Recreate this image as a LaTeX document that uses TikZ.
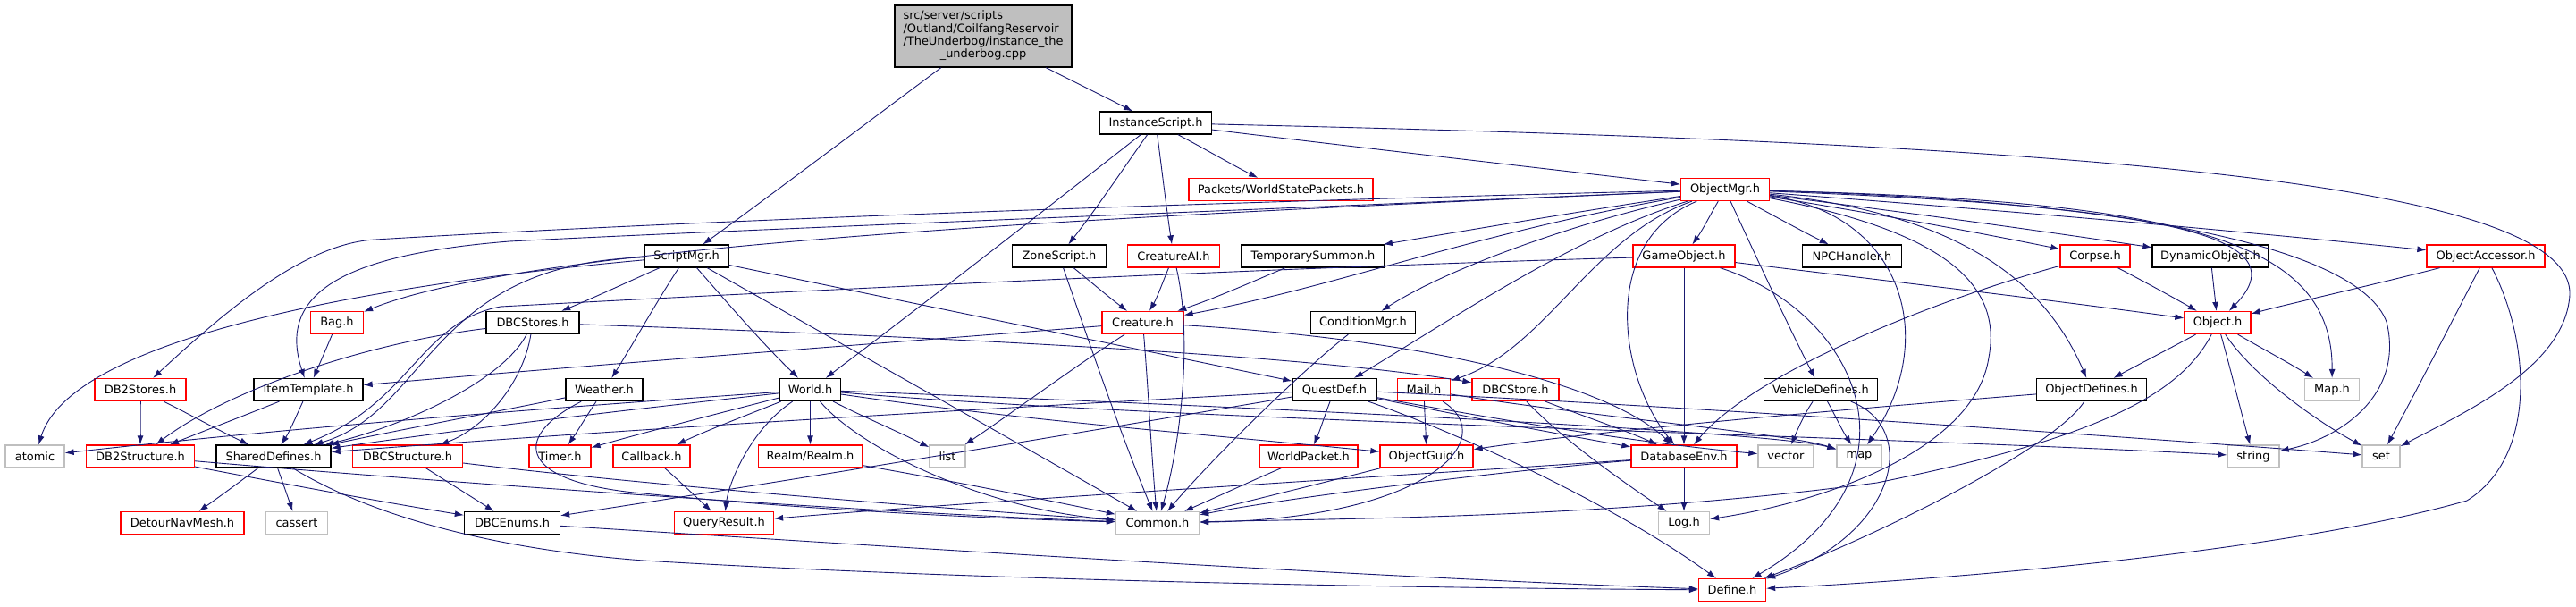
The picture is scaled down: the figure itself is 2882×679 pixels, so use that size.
\documentclass[tikz,border=0pt]{standalone}
\usepackage{fontspec}
\setmainfont{DejaVu Sans}
\usepackage{tikz}
\usetikzlibrary{arrows.meta}
\definecolor{edgeblue}{HTML}{191970}
\definecolor{boxred}{HTML}{FF0000}
\definecolor{boxgray}{HTML}{BFBFBF}
\newcommand{\dfont}{\fontsize{13}{14.4}\selectfont}
\begin{document}
\begin{tikzpicture}[>={Latex[length=10bp,width=7bp]}, x=1bp, y=-1bp]
      \tikzstyle{every node}=[font=\dfont]
      \tikzstyle{hdr}=[draw, line width=1.3bp, fill=white, minimum height=25bp, inner sep=0pt]
      \tikzstyle{blkbox}=[hdr, draw=black]
      \tikzstyle{redbox}=[hdr, draw=boxred]
      \tikzstyle{grybox}=[hdr, draw=boxgray]
      \tikzstyle{inc}=[->, color=edgeblue, line width=0.9bp]
      \useasboundingbox (0,0) rectangle (2882,679);
%%
\node (root) at (1100,40.5) [blkbox, fill=boxgray, minimum width=198bp, minimum height=69bp] {\begin{tabular}{@{}l@{}}src/server/scripts\\/Outland/CoilfangReservoir\\/TheUnderbog/instance\_the\\\multicolumn{1}{@{}c@{}}{\_underbog.cpp}\end{tabular}};
  \node (InstanceScript) at (1293,137.5) [blkbox, minimum width=125bp] {InstanceScript.h};
  \node (WorldStatePackets) at (1433,212) [redbox, minimum width=206bp] {Packets/WorldStatePackets.h};
  \node (ObjectMgr) at (1930,212) [redbox, minimum width=99bp] {ObjectMgr.h};
  \node (ScriptMgr) at (768,286.5) [blkbox, minimum width=94bp] {ScriptMgr.h};
  \node (ZoneScript) at (1185,286.5) [blkbox, minimum width=105bp] {ZoneScript.h};
  \node (CreatureAI) at (1313,286.5) [redbox, minimum width=103bp] {CreatureAI.h};
  \node (TemporarySummon) at (1469,286.5) [blkbox, minimum width=160bp] {TemporarySummon.h};
  \node (GameObject) at (1884,286.5) [redbox, minimum width=114bp] {GameObject.h};
  \node (NPCHandler) at (2072,286.5) [blkbox, minimum width=111bp] {NPCHandler.h};
  \node (Corpse) at (2344,286.5) [redbox, minimum width=78bp] {Corpse.h};
  \node (DynamicObject) at (2473,286.5) [blkbox, minimum width=130bp] {DynamicObject.h};
  \node (ObjectAccessor) at (2781,286.5) [redbox, minimum width=132bp] {ObjectAccessor.h};
  \node (Bag) at (377,361) [redbox, minimum width=59bp] {Bag.h};
  \node (DBCStores) at (596,361) [blkbox, minimum width=104bp] {DBCStores.h};
  \node (Creature) at (1278.5,361) [redbox, minimum width=91bp] {Creature.h};
  \node (ConditionMgr) at (1525,361) [blkbox, minimum width=117bp] {ConditionMgr.h};
  \node (Object) at (2481,361) [redbox, minimum width=74bp] {Object.h};
  \node (DB2Stores) at (157,436) [redbox, minimum width=102bp] {DB2Stores.h};
  \node (ItemTemplate) at (345,436) [blkbox, minimum width=122bp] {ItemTemplate.h};
  \node (Weather) at (676,436) [blkbox, minimum width=86bp] {Weather.h};
  \node (World) at (906.5,436) [blkbox, minimum width=68bp] {World.h};
  \node (QuestDef) at (1493,436) [blkbox, minimum width=94bp] {QuestDef.h};
  \node (Mail) at (1593,436) [redbox, minimum width=59bp] {Mail.h};
  \node (DBCStore) at (1695.5,436) [redbox, minimum width=97bp] {DBCStore.h};
  \node (VehicleDefines) at (2037,436) [blkbox, minimum width=127bp] {VehicleDefines.h};
  \node (ObjectDefines) at (2340,436) [blkbox, minimum width=123bp] {ObjectDefines.h};
  \node (MapH) at (2609,436) [grybox, minimum width=61bp] {Map.h};
  \node (atomic) at (39,510.5) [grybox, minimum width=66bp] {atomic};
  \node (DB2Structure) at (157,510.5) [redbox, minimum width=121bp] {DB2Structure.h};
  \node (SharedDefines) at (306,510.5) [blkbox, minimum width=128bp] {SharedDefines.h};
  \node (DBCStructure) at (456,510.5) [redbox, minimum width=123bp] {DBCStructure.h};
  \node (Timer) at (626.5,510.5) [redbox, minimum width=69bp] {Timer.h};
  \node (Callback) at (729,510.5) [redbox, minimum width=86bp] {Callback.h};
  \node (Realm) at (906.5,510.5) [redbox, minimum width=116bp] {Realm/Realm.h};
  \node (list) at (1060,510.5) [grybox, minimum width=40bp] {list};
  \node (WorldPacket) at (1464,510.5) [redbox, minimum width=110bp] {WorldPacket.h};
  \node (ObjectGuid) at (1596,510.5) [redbox, minimum width=104bp] {ObjectGuid.h};
  \node (DatabaseEnv) at (1884,510.5) [redbox, minimum width=118bp] {DatabaseEnv.h};
  \node (vector) at (1998,510.5) [grybox, minimum width=62bp] {vector};
  \node (map) at (2080,510.5) [grybox, minimum width=50bp] {map};
  \node (string) at (2521,510.5) [grybox, minimum width=58bp] {string};
  \node (set) at (2664,510.5) [grybox, minimum width=42bp] {set};
  \node (DetourNavMesh) at (204,585) [redbox, minimum width=138bp] {DetourNavMesh.h};
  \node (cassert) at (332,585) [grybox, minimum width=69bp] {cassert};
  \node (DBCEnums) at (573,585) [blkbox, minimum width=107bp] {DBCEnums.h};
  \node (QueryResult) at (810,585) [redbox, minimum width=111bp] {QueryResult.h};
  \node (Common) at (1295,585) [grybox, minimum width=93bp] {Common.h};
  \node (Log) at (1884,585) [grybox, minimum width=57bp] {Log.h};
  \node (Define) at (1938,660) [redbox, minimum width=75bp] {Define.h};
%%
  \draw [inc] (root) ..controls (1203,92) and (1235,108) .. (InstanceScript);
  \draw [inc] (root) ..controls (1000,115) and (840,235) .. (ScriptMgr);
  \draw [inc] (InstanceScript) ..controls (1530,166) and (1705,186) .. (ObjectMgr);
  \draw [inc] (InstanceScript) ..controls (1347,166) and (1376,183) .. (WorldStatePackets);
  \draw [inc] (InstanceScript) ..controls (1300,191) and (1305,233) .. (CreatureAI);
  \draw [inc] (InstanceScript) ..controls (1255,191) and (1227,233) .. (ZoneScript);
  \draw [inc] (InstanceScript) ..controls (1161,241) and (1044,332) .. (World);
  \draw [inc] (InstanceScript) ..controls (2300,160) and (2880,200) .. (2875,330) ..controls (2870,410) and (2760,460) .. (set);
  \draw [inc] (ScriptMgr) ..controls (400,320) and (80,380) .. (atomic);
  \draw [inc] (ScriptMgr) ..controls (480,295) and (480,460) .. (SharedDefines);
  \draw [inc] (ScriptMgr) ..controls (703,315) and (667,332) .. (DBCStores);
  \draw [inc] (ScriptMgr) ..controls (733,340) and (710,382) .. (Weather);
  \draw [inc] (ScriptMgr) ..controls (815,340) and (851,382) .. (World);
  \draw [inc] (ScriptMgr) ..controls (951,390) and (1113,481) .. (Common);
  \draw [inc] (ScriptMgr) ..controls (1025,340) and (1236,383) .. (QuestDef);
  \draw [inc] (ObjectMgr) ..controls (1400,225) and (800,245) .. (420,268) ..controls (340,272) and (250,350) .. (DB2Stores);
  \draw [inc] (ObjectMgr) ..controls (1400,235) and (800,258) .. (570,270) ..controls (380,285) and (310,330) .. (ItemTemplate);
  \draw [inc] (ObjectMgr) ..controls (1300,240) and (600,270) .. (Bag);
  \draw [inc] (ObjectMgr) ..controls (1770,236) and (1658,255) .. (TemporarySummon);
  \draw [inc] (ObjectMgr) ..controls (1650,260) and (1500,320) .. (Creature);
  \draw [inc] (ObjectMgr) ..controls (1760,250) and (1620,300) .. (ConditionMgr);
  \draw [inc] (ObjectMgr) ..controls (1760,265) and (1620,360) .. (QuestDef);
  \draw [inc] (ObjectMgr) ..controls (1780,265) and (1730,390) .. (Mail);
  \draw [inc] (ObjectMgr) ..controls (1790,270) and (1810,420) .. (DatabaseEnv);
  \draw [inc] (ObjectMgr) ..controls (1913,241) and (1905,257) .. (GameObject);
  \draw [inc] (ObjectMgr) ..controls (1966,290) and (1997,357) .. (VehicleDefines);
  \draw [inc] (ObjectMgr) ..controls (1984,241) and (2013,257) .. (NPCHandler);
  \draw [inc] (ObjectMgr) ..controls (2086,237) and (2192,256) .. (Corpse);
  \draw [inc] (ObjectMgr) ..controls (2120,236) and (2262,255) .. (DynamicObject);
  \draw [inc] (ObjectMgr) ..controls (2225,234) and (2470,255) .. (ObjectAccessor);
  \draw [inc] (ObjectMgr) ..controls (2400,230) and (2580,260) .. (Object);
  \draw [inc] (ObjectMgr) ..controls (2450,225) and (2610,270) .. (MapH);
  \draw [inc] (ObjectMgr) ..controls (2400,225) and (2640,280) .. (2670,360) ..controls (2690,440) and (2620,490) .. (string);
  \draw [inc] (ObjectMgr) ..controls (2130,240) and (2170,380) .. (map);
  \draw [inc] (ObjectMgr) ..controls (2180,260) and (2240,320) .. (2225,400) ..controls (2210,500) and (2050,560) .. (Log);
  \draw [inc] (ObjectMgr) ..controls (2200,240) and (2290,320) .. (ObjectDefines);
  \draw [inc] (GameObject) ..controls (1400,300) and (800,330) .. (560,343) ..controls (470,360) and (460,450) .. (SharedDefines);
  \draw [inc] (GameObject) ..controls (1884,370) and (1884,430) .. (DatabaseEnv);
  \draw [inc] (GameObject) ..controls (2108,314) and (2276,333) .. (Object);
  \draw [inc] (GameObject) ..controls (2080,350) and (2160,530) .. (Define);
  \draw [inc] (Corpse) ..controls (2150,340) and (1960,420) .. (DatabaseEnv);
  \draw [inc] (Corpse) ..controls (2399,315) and (2430,332) .. (Object);
  \draw [inc] (DynamicObject) ..controls (2476,315) and (2478,332) .. (Object);
  \draw [inc] (ObjectAccessor) ..controls (2650,320) and (2560,340) .. (Object);
  \draw [inc] (ObjectAccessor) ..controls (2741,364) and (2707,430) .. (set);
  \draw [inc] (ObjectAccessor) ..controls (2830,380) and (2840,510) .. (2760,560) ..controls (2550,620) and (2150,650) .. (Define);
  \draw [inc] (Object) ..controls (2427,390) and (2396,406) .. (ObjectDefines);
  \draw [inc] (Object) ..controls (2496,415) and (2506,456) .. (string);
  \draw [inc] (Object) ..controls (2520,420) and (2590,470) .. (set);
  \draw [inc] (Object) ..controls (2531,390) and (2561,406) .. (MapH);
  \draw [inc] (Object) ..controls (2440,440) and (2350,490) .. (2100,540) ..controls (1800,580) and (1500,580) .. (Common);
  \draw [inc] (ObjectDefines) ..controls (2100,455) and (1800,480) .. (ObjectGuid);
  \draw [inc] (ObjectDefines) ..controls (2300,500) and (2100,600) .. (Define);
  \draw [inc] (VehicleDefines) ..controls (2018,464) and (2011,481) .. (vector);
  \draw [inc] (VehicleDefines) ..controls (2053,464) and (2060,480) .. (map);
  \draw [inc] (VehicleDefines) ..controls (2150,480) and (2120,600) .. (Define);
  \draw [inc] (DatabaseEnv) ..controls (1884,540) and (1884,556) .. (Log);
  \draw [inc] (DatabaseEnv) ..controls (1700,525) and (1450,555) .. (Common);
  \draw [inc] (DatabaseEnv) ..controls (1600,530) and (1100,560) .. (QueryResult);
  \draw [inc] (DBCStore) ..controls (1746,489) and (1804,531) .. (Log);
  \draw [inc] (DBCStore) ..controls (1767,464) and (1815,480) .. (DatabaseEnv);
  \draw [inc] (Mail) ..controls (1594,465) and (1595,481) .. (ObjectGuid);
  \draw [inc] (Mail) ..controls (1680,490) and (1600,580) .. (Common);
  \draw [inc] (Mail) ..controls (1770,465) and (2000,485) .. (map);
  \draw [inc] (QuestDef) ..controls (1482,465) and (1477,481) .. (WorldPacket);
  \draw [inc] (QuestDef) ..controls (1635,465) and (1730,483) .. (DatabaseEnv);
  \draw [inc] (QuestDef) ..controls (1620,480) and (1800,560) .. (Define);
  \draw [inc] (QuestDef) ..controls (1680,470) and (1830,495) .. (vector);
  \draw [inc] (QuestDef) ..controls (1900,455) and (2400,490) .. (set);
  \draw [inc] (QuestDef) ..controls (1173,490) and (900,535) .. (DBCEnums);
  \draw [inc] (QuestDef) ..controls (1090,458) and (730,478) .. (SharedDefines);
  \draw [inc] (World) ..controls (1300,470) and (2100,488) .. (string);
  \draw [inc] (World) ..controls (1400,455) and (1990,483) .. (map);
  \draw [inc] (World) ..controls (1140,470) and (1340,485) .. (ObjectGuid);
  \draw [inc] (World) ..controls (906.5,465) and (906.5,481) .. (Realm);
  \draw [inc] (World) ..controls (963,465) and (1001,481) .. (list);
  \draw [inc] (World) ..controls (834,465) and (792,481) .. (Callback);
  \draw [inc] (World) ..controls (840,480) and (815,540) .. (QueryResult);
  \draw [inc] (World) ..controls (960,500) and (1100,570) .. (Common);
  \draw [inc] (World) ..controls (802,463) and (731,481) .. (Timer);
  \draw [inc] (World) ..controls (707,458) and (541,477) .. (SharedDefines);
  \draw [inc] (World) ..controls (606,457) and (340,477) .. (atomic);
  \draw [inc] (Creature) ..controls (1195,415) and (1138,458) .. (list);
  \draw [inc] (Creature) ..controls (1285,440) and (1288,506) .. (Common);
  \draw [inc] (Creature) ..controls (1600,380) and (1800,430) .. (DatabaseEnv);
  \draw [inc] (Creature) ..controls (1000,383) and (700,405) .. (ItemTemplate);
  \draw [inc] (CreatureAI) ..controls (1301,315) and (1295,332) .. (Creature);
  \draw [inc] (CreatureAI) ..controls (1335,380) and (1320,500) .. (Common);
  \draw [inc] (ZoneScript) ..controls (1220,315) and (1240,332) .. (Creature);
  \draw [inc] (ZoneScript) ..controls (1221,390) and (1252,481) .. (Common);
  \draw [inc] (TemporarySummon) ..controls (1399,316) and (1361,333) .. (Creature);
  \draw [inc] (ConditionMgr) ..controls (1450,420) and (1350,520) .. (Common);
  \draw [inc] (DBCStores) ..controls (1000,375) and (1450,395) .. (DBCStore);
  \draw [inc] (DBCStores) ..controls (400,385) and (250,440) .. (DB2Structure);
  \draw [inc] (DBCStores) ..controls (560,430) and (440,480) .. (SharedDefines);
  \draw [inc] (DBCStores) ..controls (585,430) and (540,480) .. (DBCStructure);
  \draw [inc] (Weather) ..controls (548,462) and (462,478) .. (SharedDefines);
  \draw [inc] (Weather) ..controls (657,464) and (647,481) .. (Timer);
  \draw [inc] (Weather) ..controls (570,490) and (580,540) .. (720,552) ..controls (900,570) and (1100,580) .. (Common);
  \draw [inc] (Bag) ..controls (365,390) and (358,406) .. (ItemTemplate);
  \draw [inc] (ItemTemplate) ..controls (332,464) and (325,481) .. (SharedDefines);
  \draw [inc] (ItemTemplate) ..controls (273,465) and (231,481) .. (DB2Structure);
  \draw [inc] (DB2Stores) ..controls (157,465) and (157,481) .. (DB2Structure);
  \draw [inc] (DB2Stores) ..controls (213,464) and (244,481) .. (SharedDefines);
  \draw [inc] (DB2Structure) ..controls (318,541) and (418,560) .. (DBCEnums);
  \draw [inc] (DB2Structure) ..controls (500,540) and (1000,575) .. (Common);
  \draw [inc] (DBCStructure) ..controls (502,540) and (528,556) .. (DBCEnums);
  \draw [inc] (DBCStructure) ..controls (700,540) and (1000,565) .. (Common);
  \draw [inc] (SharedDefines) ..controls (267,540) and (245,556) .. (DetourNavMesh);
  \draw [inc] (SharedDefines) ..controls (316,539) and (322,556) .. (cassert);
  \draw [inc] (SharedDefines) ..controls (420,580) and (560,615) .. (720,627) ..controls (1100,650) and (1600,658) .. (Define);
  \draw [inc] (DBCEnums) ..controls (900,605) and (1500,645) .. (Define);
  \draw [inc] (Callback) ..controls (761,539) and (779,556) .. (QueryResult);
  \draw [inc] (Realm) ..controls (1060,537) and (1155,556) .. (Common);
  \draw [inc] (WorldPacket) ..controls (1400,538) and (1368,553) .. (Common);
  \draw [inc] (ObjectGuid) ..controls (1500,535) and (1400,560) .. (Common);
%
\end{tikzpicture}
\end{document}
